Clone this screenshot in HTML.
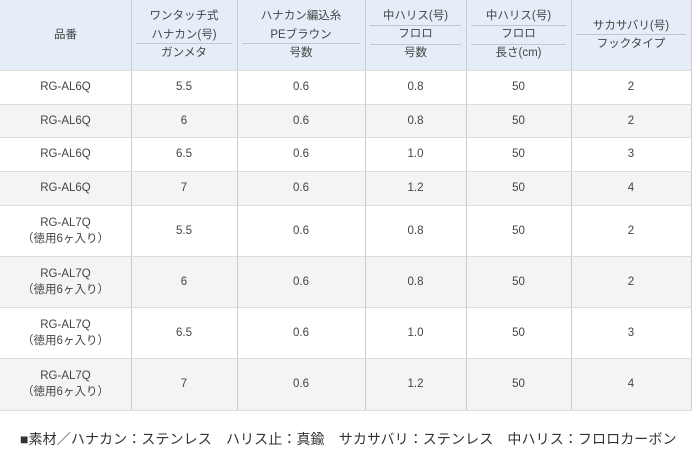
<!DOCTYPE html><html><head><meta charset="utf-8"><style>
body{margin:0;width:693px;height:454px;background:#fff;font-family:"Liberation Sans","Noto Sans CJK JP",sans-serif;color:#444;font-size:11.5px;position:relative;overflow:hidden}
.a{position:absolute}
.c{position:absolute;text-align:center;line-height:16px}
</style></head><body>
<div class="a" style="left:0;top:0;width:692px;height:70px;background:#e5eef8"></div>
<div class="a" style="left:0;top:104px;width:692px;height:33px;background:#f4f4f4"></div>
<div class="a" style="left:0;top:171px;width:692px;height:34px;background:#f4f4f4"></div>
<div class="a" style="left:0;top:256px;width:692px;height:51px;background:#f4f4f4"></div>
<div class="a" style="left:0;top:358px;width:692px;height:52px;background:#f4f4f4"></div>
<div id="lines"></div>
<script>
var xs=[131,237,365,466,571,691],ys=[70,104,137,171,205,256,307,358,410];
var h='';
xs.forEach(function(x){h+='<div class="a" style="left:'+x+'px;top:0;width:1px;height:410px;background:#ccc"></div>';});
ys.forEach(function(y){h+='<div class="a" style="left:0;top:'+y+'px;width:692px;height:1px;background:#ddd"></div>';});
var cols=[[0,131],[131,237],[237,365],[365,466],[466,571],[571,691]];
function hl(i,y){h+='<div class="a" style="left:'+(cols[i][0]+5)+'px;top:'+y+'px;width:'+(cols[i][1]-cols[i][0]-10)+'px;height:1px;background:#bcc8d6"></div>';}
hl(1,43);hl(2,43);hl(3,25);hl(3,44);hl(4,25);hl(4,44);hl(5,34);
function cell(i,y,t,lh){h+='<div class="c" style="left:'+cols[i][0]+'px;width:'+(cols[i][1]-cols[i][0])+'px;top:'+y+'px'+(lh?';line-height:'+lh+'px':'')+'">'+t+'</div>';}
cell(0,27,'品番');
cell(1,7,'ワンタッチ式<br>ハナカン(号)',19);cell(1,45,'ガンメタ');
cell(2,7,'ハナカン編込糸<br>PEブラウン',19);cell(2,45,'号数');
cell(3,8,'中ハリス(号)');cell(3,26,'フロロ');cell(3,45,'号数');
cell(4,8,'中ハリス(号)');cell(4,26,'フロロ');cell(4,45,'長さ(cm)');
cell(5,18,'サカサバリ(号)');cell(5,36,'フックタイプ');
var rows=[['RG-AL6Q','5.5','0.6','0.8','50','2'],['RG-AL6Q','6','0.6','0.8','50','2'],['RG-AL6Q','6.5','0.6','1.0','50','3'],['RG-AL6Q','7','0.6','1.2','50','4'],
['RG-AL7Q<br>（徳用6ヶ入り）','5.5','0.6','0.8','50','2'],['RG-AL7Q<br>（徳用6ヶ入り）','6','0.6','0.8','50','2'],['RG-AL7Q<br>（徳用6ヶ入り）','6.5','0.6','1.0','50','3'],['RG-AL7Q<br>（徳用6ヶ入り）','7','0.6','1.2','50','4']];
rows.forEach(function(r,k){var mid=(ys[k]+ys[k+1])/2;r.forEach(function(t,i){var two=t.indexOf('<br>')>=0;cell(i,Math.round(mid-(two?16:8)),t);});});
document.getElementById('lines').innerHTML=h;
</script>
<div class="a" style="left:20px;top:429px;font-size:14px;color:#333;white-space:nowrap;letter-spacing:0.1px">■素材／ハナカン：ステンレス　ハリス止：真鍮　サカサバリ：ステンレス　中ハリス：フロロカーボン</div>
</body></html>
